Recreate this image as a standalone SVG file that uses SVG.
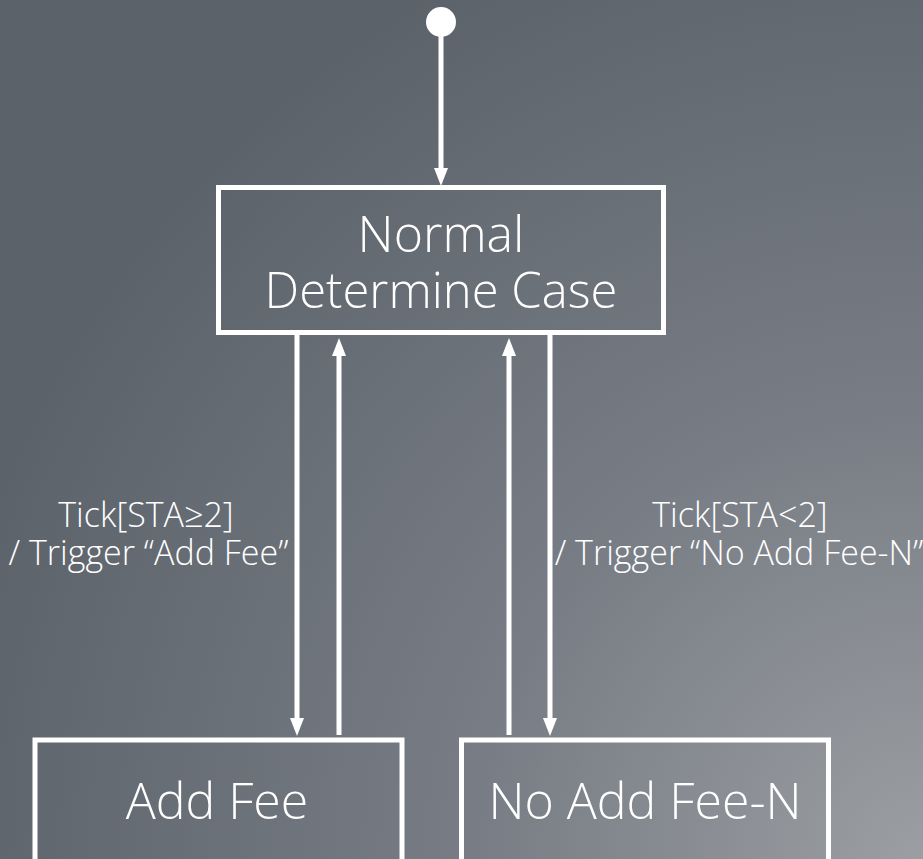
<svg xmlns="http://www.w3.org/2000/svg" width="923" height="859" viewBox="0 0 923 859">
  <defs>
    <radialGradient id="bg" gradientUnits="userSpaceOnUse" cx="923" cy="859" r="1000">
      <stop offset="0" stop-color="#9b9ea2"/>
      <stop offset="0.45" stop-color="#787d85"/>
      <stop offset="1" stop-color="#5b626a"/>
    </radialGradient>
    <style>
      .box { fill: none; stroke: #ffffff; stroke-width: 5; }
      .wire { fill: none; stroke: #ffffff; stroke-width: 5; }
      .head { fill: #ffffff; }
      .state { font-family: "Open Sans", "Noto Sans", sans-serif; font-weight: 300; fill: #ffffff; text-anchor: middle; }
      .label { font-family: "Open Sans", "Noto Sans", sans-serif; font-weight: 300; font-size: 34px; fill: #ffffff; text-anchor: middle; }
    </style>
  </defs>

  <rect x="0" y="0" width="923" height="859" fill="url(#bg)"/>

  <g id="start">
    <circle cx="441" cy="22" r="15" fill="#ffffff"/>
  </g>

  <g id="normal">
    <rect class="box" x="218.5" y="187.5" width="445" height="145"/>
    <text class="state" x="441" y="252" font-size="50">Normal</text>
    <text class="state" x="441" y="308" font-size="49">Determine Case</text>
  </g>

  <g id="add-fee">
    <rect class="box" x="35" y="740" width="367" height="130"/>
    <text class="state" x="217" y="819" font-size="50">Add Fee</text>
  </g>

  <g id="no-add-fee">
    <rect class="box" x="461.5" y="740" width="367" height="130"/>
    <text class="state" x="645" y="819" font-size="50">No Add Fee-N</text>
  </g>

  <g id="connectors">
    <!-- initial transition -->
    <path class="wire" d="M441,36 L441,170"/>
    <path class="head" d="M434,168 L448,168 L441,186 Z"/>
    <!-- Normal to Add Fee -->
    <path class="wire" d="M297,335 L297,720"/>
    <path class="head" d="M290,718 L304,718 L297,736 Z"/>
    <!-- Add Fee back to Normal -->
    <path class="wire" d="M339,735 L339,354"/>
    <path class="head" d="M332,356 L346,356 L339,338 Z"/>
    <!-- No Add Fee-N back to Normal -->
    <path class="wire" d="M509,735 L509,354"/>
    <path class="head" d="M502,356 L516,356 L509,338 Z"/>
    <!-- Normal to No Add Fee-N -->
    <path class="wire" d="M550,335 L550,720"/>
    <path class="head" d="M543,718 L557,718 L550,736 Z"/>

    <text class="label" x="146" y="527">Tick[STA≥2]</text>
    <text class="label" x="148.5" y="565">/ Trigger “Add Fee”</text>
    <text class="label" x="740" y="527">Tick[STA&lt;2]</text>
    <text class="label" x="739" y="565" font-size="33.5">/ Trigger “No Add Fee-N”</text>
  </g>
</svg>
